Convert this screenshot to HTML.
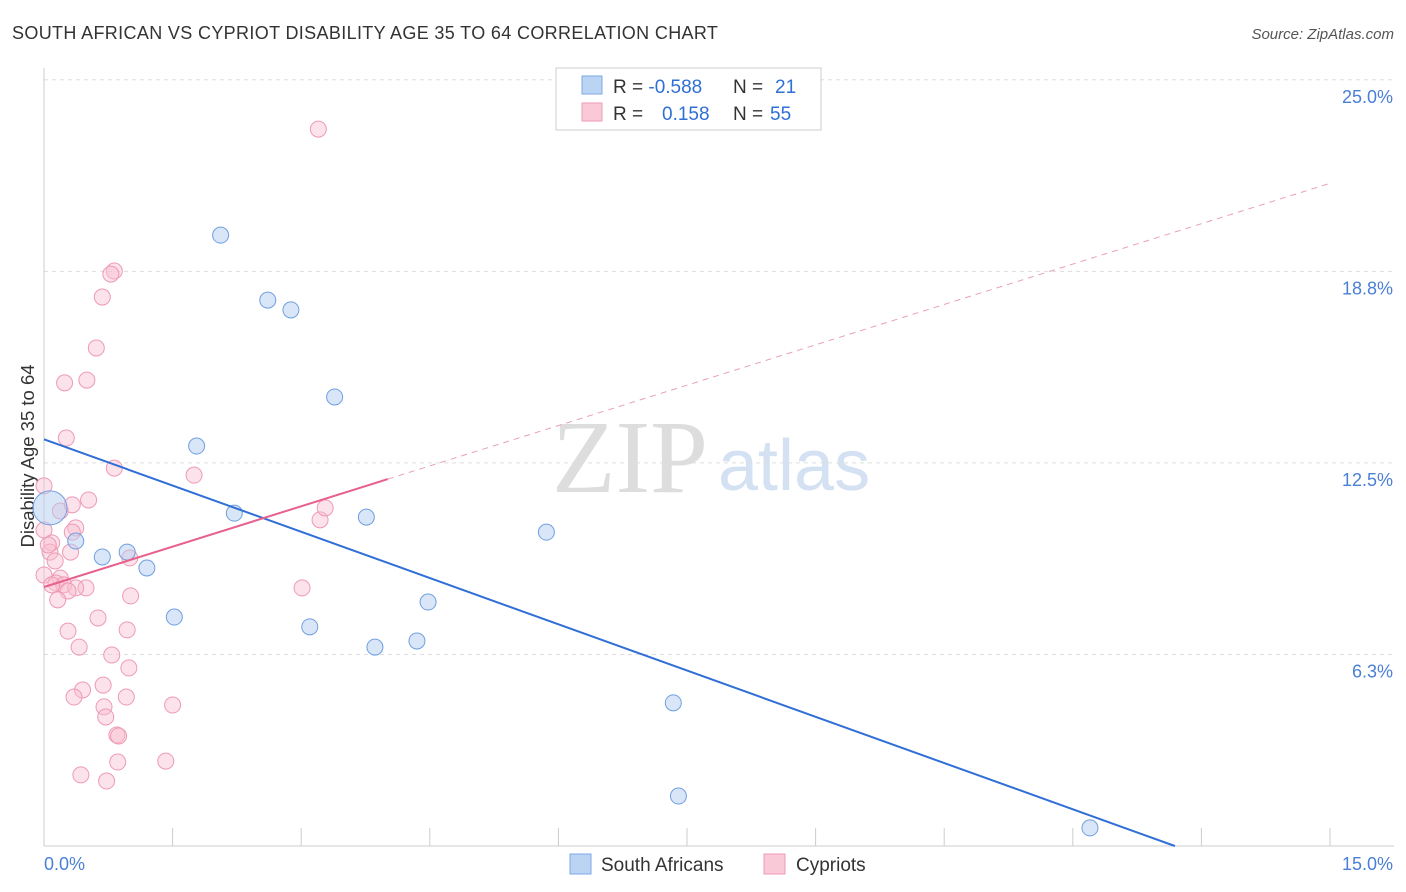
<!DOCTYPE html>
<html><head><meta charset="utf-8"><style>
body{margin:0;background:#fff;font-family:"Liberation Sans",sans-serif;}
#c{position:relative;width:1406px;height:892px;overflow:hidden}
</style></head><body>
<div id="c">
<svg id="s" width="1406" height="892" xmlns="http://www.w3.org/2000/svg">
<text x="12" y="39" font-size="18" fill="#333" letter-spacing="0.35">SOUTH AFRICAN VS CYPRIOT DISABILITY AGE 35 TO 64 CORRELATION CHART</text>
<text x="1394" y="39" font-size="15" fill="#555" font-style="italic" text-anchor="end">Source: ZipAtlas.com</text>
<text x="34" y="456" font-size="18.5" fill="#333" text-anchor="middle" transform="rotate(-90 34 456)">Disability Age 35 to 64</text>
<text x="552" y="492" font-size="104" fill="#ddd" font-family="Liberation Serif">ZIP</text>
<text x="718" y="490" font-size="72" fill="#d4e1f3">atlas</text>
<g id="grid"></g><g id="marks"></g>
<text x="44" y="870" font-size="18" fill="#4a7fd6">0.0%</text>
<text x="1393" y="870" font-size="18" fill="#4a7fd6" text-anchor="end">15.0%</text>
<g>
<rect x="556" y="68" width="265" height="62" fill="#fff" stroke="#ccc"/>
<rect x="582" y="76" width="20" height="18" fill="#bcd4f4" stroke="#7ea8e6"/>
<rect x="582" y="103" width="20" height="18" fill="#f9c9d8" stroke="#ee9ab5"/>
<text x="613" y="93" font-size="19" fill="#333">R = <tspan fill="#2f6fd6">-0.588</tspan><tspan x="733">N = </tspan><tspan fill="#2f6fd6" x="775">21</tspan></text>
<text x="613" y="120" font-size="19" fill="#333">R = <tspan fill="#2f6fd6" x="662">0.158</tspan><tspan x="733">N = </tspan><tspan fill="#2f6fd6" x="770">55</tspan></text>
</g>
<g><rect x="570" y="854" width="21" height="20" fill="#bcd4f4" stroke="#7ea8e6"/><text x="601" y="871" font-size="19" fill="#333">South Africans</text></g>
<g><rect x="764" y="854" width="21" height="20" fill="#f9c9d8" stroke="#ee9ab5"/><text x="796" y="871" font-size="19" fill="#333">Cypriots</text></g>
</svg></div>
<script>
const yTicks=[6.3,12.5,18.8,25.0];
const yTickVals=[6.25,12.5,18.75,25];
const blueX=[2.06,2.61,2.88,3.39,1.78,2.22,3.76,5.86,0.37,0.68,0.97,1.20,1.52,3.10,3.86,4.35,4.48,7.34,7.40,12.20,0.07];
const blueY=[19.93,17.81,17.49,14.65,13.05,10.86,10.73,10.24,9.95,9.43,9.59,9.07,7.47,7.15,6.49,6.69,7.96,4.67,1.63,0.59,11.03];
const pinkX=[3.20,0.82,0.78,0.68,0.61,0.50,0.24,0.26,0.82,1.75,0.52,0.19,0.0,0.37,0.33,3.22,3.28,0.09,0.07,0.31,1.00,0.13,0.0,0.19,0.14,0.23,0.49,0.37,3.01,0.28,1.01,0.16,0.63,0.28,0.97,0.41,0.79,0.99,0.45,0.35,0.69,0.96,1.50,0.70,0.72,0.85,0.87,0.86,1.42,0.43,0.73,0.05,0.09,0.0,0.33];
const pinkY=[23.39,18.76,18.66,17.91,16.25,15.20,15.11,13.31,12.33,12.10,11.29,10.93,11.75,10.38,10.24,10.64,11.03,9.89,9.59,9.59,9.40,9.30,8.84,8.74,8.58,8.52,8.42,8.42,8.42,8.32,8.16,8.03,7.44,7.01,7.05,6.49,6.23,5.81,5.09,4.86,5.25,4.86,4.60,4.54,4.21,3.62,3.59,2.74,2.77,2.32,2.12,9.82,8.52,10.31,11.13];
const blueTrend=[13.27,-1.006];
const pinkTrend=[8.45,0.878];
const NS="http://www.w3.org/2000/svg";
const X=v=>44+v/15*1286, Y=v=>846-v*30.65;
function mk(p,t,a){const e=document.createElementNS(NS,t);for(const k in a)e.setAttribute(k,a[k]);p.appendChild(e);return e;}
const g=document.getElementById('grid'),m=document.getElementById('marks');
yTickVals.forEach((v,i)=>{
 const l=mk(g,'line',{x1:44,x2:1394,y1:Y(v),y2:Y(v),stroke:'#ddd','stroke-dasharray':'4,4'});
 
 
 const t=mk(g,'text',{x:1393,y:Y(v)+23,'font-size':18,fill:'#4a7fd6','text-anchor':'end'});t.textContent=yTicks[i].toFixed(1)+'%';
 
 
});
const ax=mk(g,'line',{x1:44,x2:1394,y1:846,y2:846,stroke:'#ccc'});


const ay=mk(g,'line',{x1:44,x2:44,y1:68,y2:846,stroke:'#ccc'});


for(let i=0;i<=10;i++){const t=mk(g,'line',{x1:X(i*1.5),x2:X(i*1.5),y1:828,y2:846,stroke:'#ccc'});
 
 }
pinkX.forEach((x,i)=>{const c=mk(m,'circle',{cx:X(x),cy:Y(pinkY[i]),r:8,fill:'rgba(248,190,208,0.45)',stroke:'#ee9ab5','stroke-width':1});
 
 });
blueX.forEach((x,i)=>{const big=i===blueX.length-1;const c=mk(m,'circle',{cx:X(x),cy:Y(blueY[i]),r:big?17:8,fill:'rgba(180,205,242,0.5)',stroke:'#6f9fe0','stroke-width':1});
 
 });
const bx2=-blueTrend[0]/blueTrend[1];
const bl=mk(m,'line',{x1:X(0),y1:Y(blueTrend[0]),x2:X(bx2),y2:Y(0),stroke:'#2f6fd6','stroke-width':2});


const pe=4.01;
const pl=mk(m,'line',{x1:X(0),y1:Y(pinkTrend[0]),x2:X(pe),y2:Y(pinkTrend[0]+pinkTrend[1]*pe),stroke:'#e8608d','stroke-width':2});


const pd=mk(m,'line',{x1:X(pe),y1:Y(pinkTrend[0]+pinkTrend[1]*pe),x2:X(15),y2:Y(pinkTrend[0]+pinkTrend[1]*15),stroke:'#e8a0b8','stroke-width':1,'stroke-dasharray':'6,5'});


</script>
</body></html>
